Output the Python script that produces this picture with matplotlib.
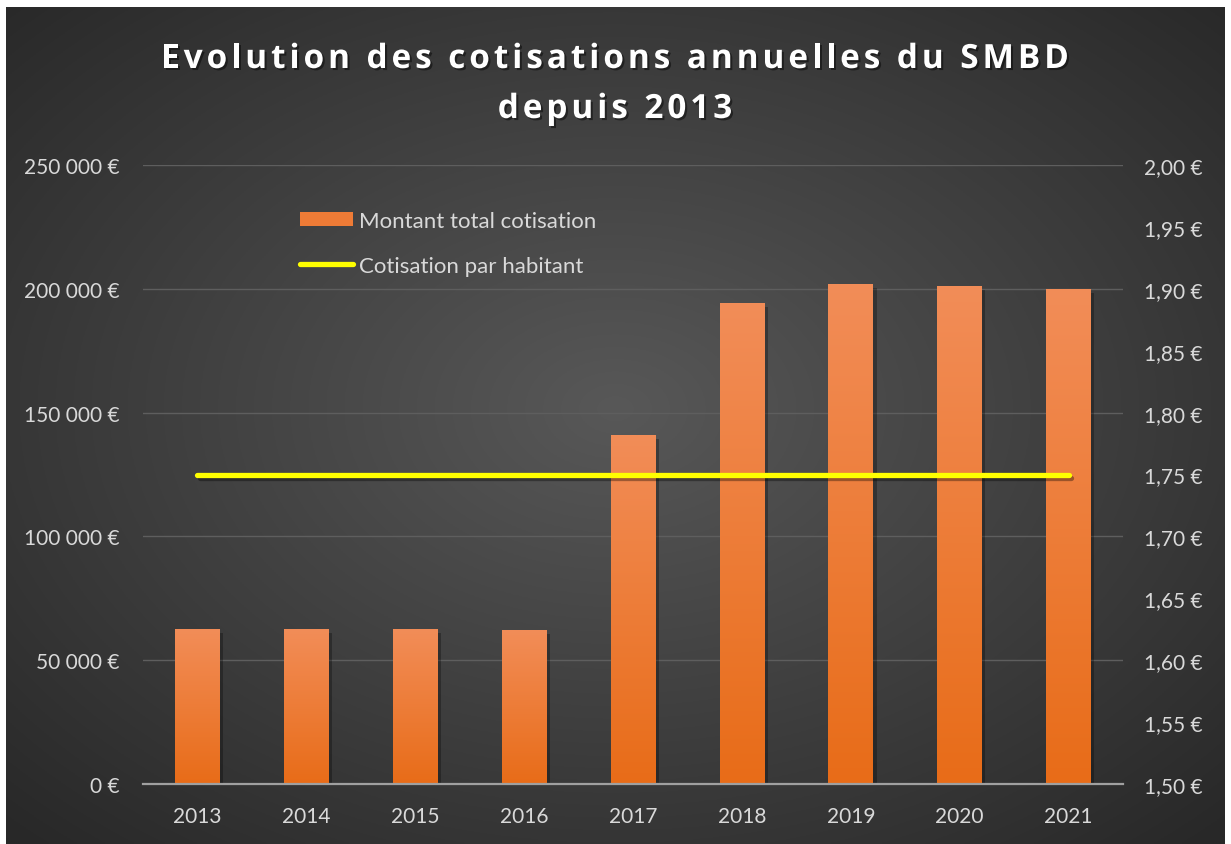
import numpy as np
import matplotlib
matplotlib.use("Agg")
import matplotlib.pyplot as plt
from matplotlib import patheffects as pe
from matplotlib.patches import Rectangle
from matplotlib.lines import Line2D
from matplotlib.ticker import FuncFormatter, MultipleLocator
from matplotlib import font_manager
from matplotlib.font_manager import FontProperties
from matplotlib.ft2font import FT2Font

# ---- data ----
years = ["2013", "2014", "2015", "2016", "2017", "2018", "2019", "2020", "2021"]
montant_total = [62200, 62200, 62200, 61800, 140600, 193900, 201600, 200800, 199600]
cotisation_hab = [1.75, 1.75, 1.75, 1.75, 1.75, 1.75, 1.75, 1.75, 1.75]
title_lines = ["Evolution des cotisations annuelles du SMBD", "depuis 2013"]
label_bar = "Montant total cotisation"
label_line = "Cotisation par habitant"

FONT = "Lato"
TXT = "#d9d9d9"

W, H = 1231, 845
DPI = 100
fig = plt.figure(figsize=(W / DPI, H / DPI), dpi=DPI)
fig.patch.set_facecolor("white")

# background radial gradient panel
bg = fig.add_axes([6 / W, 0, (1225 - 6) / W, 1 - 8 / H])
bg.set_axis_off()
ny, nx = 400, 600
yy, xx = np.mgrid[0:1:ny * 1j, 0:1:nx * 1j]
r = np.sqrt(((xx - 0.5) / 0.75) ** 2 + ((yy - 0.52) / 0.75) ** 2)
r = np.clip(r / 0.95, 0, 1)
c_in = np.array([0x58, 0x58, 0x58]) / 255
c_out = np.array([0x28, 0x28, 0x28]) / 255
img = c_in[None, None, :] * (1 - r[..., None]) + c_out[None, None, :] * r[..., None]
bg.imshow(img, extent=[0, 1, 0, 1], aspect="auto", origin="lower")
bg.set_xlim(0, 1)
bg.set_ylim(0, 1)

# main axes
L, R = 143, 1123
T, B = 166, 785
ax = fig.add_axes([L / W, 1 - B / H, (R - L) / W, (B - T) / H])
ax.patch.set_alpha(0)
x = np.arange(len(years))
bars = ax.bar(x, montant_total, width=0.41, color="#EE7B36", zorder=3,
              path_effects=[pe.SimplePatchShadow(offset=(2.5, -2.5), alpha=0.28, shadow_rgbFace="black"), pe.Normal()])
top_c = np.array([0xF2, 0x8D, 0x58]) / 255
bot_c = np.array([0xE8, 0x6C, 0x18]) / 255
grad = np.linspace(0, 1, 256)[:, None, None]
gimg = bot_c[None, None, :] * (1 - grad) + top_c[None, None, :] * grad
gimg = np.repeat(gimg, 2, axis=1)
for b in bars:
    ax.imshow(gimg, extent=[b.get_x(), b.get_x() + b.get_width(), 0, b.get_height()],
              aspect="auto", origin="lower", zorder=4)

ax.set_xlim(-0.5, len(years) - 0.5)
ax.set_ylim(0, 250000)
ax.yaxis.set_major_locator(MultipleLocator(50000))
ax.yaxis.set_major_formatter(FuncFormatter(lambda v, p: f"{int(v):,} €".replace(",", " ")))
ax.set_xticks(x)
ax.set_xticklabels(years)
ax.grid(axis="y", color="#5e5e5e", linewidth=1.0, zorder=0)
ax.set_axisbelow(True)
for s in ["top", "right", "left"]:
    ax.spines[s].set_visible(False)
ax.spines["bottom"].set_color("#a0a0a0")
ax.spines["bottom"].set_linewidth(1.6)
ax.spines["bottom"].set_zorder(5)
ax.tick_params(axis="both", length=0, colors=TXT, labelsize=15)
ax.tick_params(axis="y", pad=17)
ax.tick_params(axis="x", pad=16)
for t in ax.get_xticklabels() + ax.get_yticklabels():
    t.set_fontfamily(FONT)

ax2 = ax.twinx()
ax2.patch.set_alpha(0)
ax2.plot(x, cotisation_hab, color="#FFFF00", lw=3.8, solid_capstyle="round", zorder=6,
         path_effects=[pe.SimpleLineShadow(offset=(1.5, -2.5), alpha=0.35, shadow_color="black"), pe.Normal()])
ax2.set_ylim(1.5, 2.0)
ax2.yaxis.set_major_locator(MultipleLocator(0.05))
ax2.yaxis.set_major_formatter(FuncFormatter(lambda v, p: f"{v:.2f} €".replace(".", ",")))
for s in ax2.spines.values():
    s.set_visible(False)
ax2.tick_params(axis="y", length=0, colors=TXT, labelsize=15, pad=15)
for t in ax2.get_yticklabels():
    t.set_fontfamily(FONT)

handles = [Rectangle((0, 0), 1, 1, facecolor="#EE7B36"),
           Line2D([0], [0], color="#FFFF00", lw=3.8, solid_capstyle="round")]
leg = ax2.legend(handles, [label_bar, label_line], loc="upper left",
                 bbox_to_anchor=((291 - L) / (R - L), 1 - (203 - T) / (B - T)),
                 borderaxespad=0, frameon=False, handlelength=2.4, handleheight=0.63,
                 handletextpad=0.25, labelspacing=1.13, prop={"family": FONT, "size": 16})
for t in leg.get_texts():
    t.set_color(TXT)


# letter-spaced title
def spaced_text(s, xc, yc_px, size, spacing_px, family, weight):
    path = font_manager.findfont(FontProperties(family=family, weight=weight))
    f = FT2Font(path)
    f.set_size(size, DPI)
    advs = []
    for ch in s:
        g = f.load_char(ord(ch))
        advs.append(g.linearHoriAdvance / 65536.0)
    total = sum(advs) + spacing_px * (len(s) - 1)
    xpos = xc - total / 2
    shadow = [pe.SimplePatchShadow(offset=(1.5, -1.5), alpha=0.45, shadow_rgbFace="black"), pe.Normal()]
    for ch, a in zip(s, advs):
        if ch != " ":
            fig.text(xpos / W, 1 - yc_px / H, ch, ha="left", va="baseline", color="white",
                     fontsize=size, fontweight=weight, family=family, path_effects=shadow)
        xpos += a + spacing_px


spaced_text(title_lines[0], 615, 69, 24, 3.9, "Open Sans", "bold")
spaced_text(title_lines[1], 615, 119, 24, 3.9, "Open Sans", "bold")

fig.savefig("out.png", dpi=DPI, facecolor=fig.get_facecolor())
